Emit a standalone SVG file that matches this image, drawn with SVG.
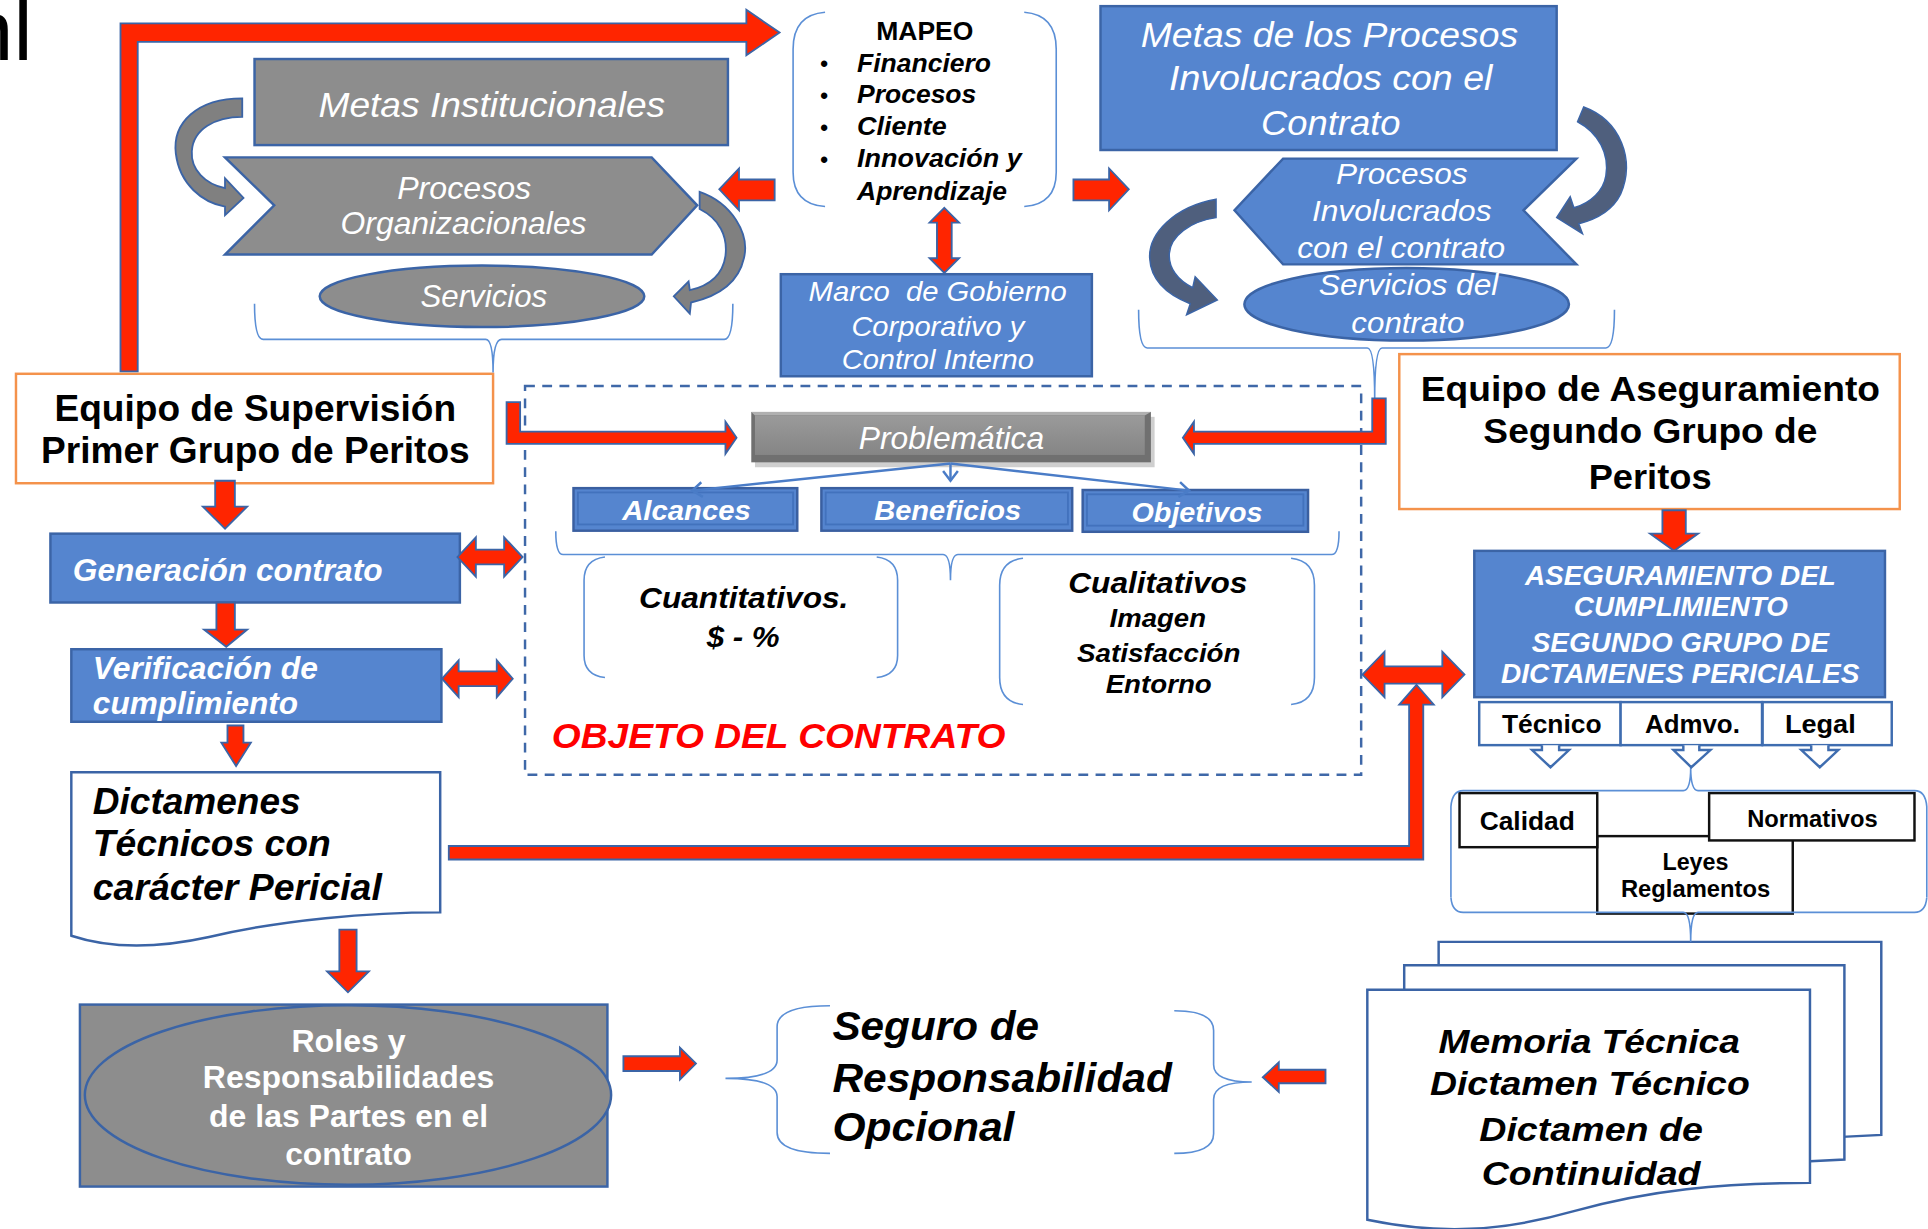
<svg xmlns="http://www.w3.org/2000/svg" width="1928" height="1229" viewBox="0 0 1928 1229">
<style>
text{font-family:"Liberation Sans",Arial,sans-serif}
.wi{fill:#fff;font-style:italic}
.wbi{fill:#fff;font-style:italic;font-weight:bold}
.wb{fill:#fff;font-weight:bold}
.bk{fill:#000;font-weight:bold}
.bki{fill:#000;font-weight:bold;font-style:italic}
.blue{fill:#5585cf;stroke:#3b64a6;stroke-width:2}
.gray{fill:#8d8d8d;stroke:#3b64a6;stroke-width:2}
.org{fill:#fff;stroke:#f4924b;stroke-width:2}
.red{fill:#ff2500;stroke:#3b64a6;stroke-width:1.5;stroke-linejoin:miter}
.brace{fill:none;stroke:#5b8fd6;stroke-width:1.3}
.doc{fill:#fff;stroke:#3b64a6;stroke-width:2}
.wbox{fill:#fff;stroke:#111;stroke-width:2}
.obox{fill:#fff;stroke:#3f6db0;stroke-width:2}
.slate{fill:#4f5f7d;stroke:#3b64a6;stroke-width:1.2}
.gcurve{fill:#808080;stroke:#3b64a6;stroke-width:1.5}
.bev{fill:#5585cf;stroke:#3a5fa0;stroke-width:2}
.bevi{fill:none;stroke:#4272bd;stroke-width:1.5}
.pl{fill:none;stroke:#4a7cc7;stroke-width:2}
</style>
<defs>
<marker id="oa" markerWidth="14" markerHeight="14" refX="10" refY="7" orient="auto" markerUnits="userSpaceOnUse"><path d="M2,1 L10,7 L2,13" fill="none" stroke="#4a7cc7" stroke-width="2"/></marker>
<linearGradient id="pg" x1="0" y1="0" x2="0" y2="1"><stop offset="0" stop-color="#9a9a9a"/><stop offset="1" stop-color="#858585"/></linearGradient>
</defs>
<rect width="1928" height="1229" fill="#fff"/>
<g transform="scale(1.2296)">
<text x="-28" y="49" font-size="70" fill="#000">nl</text>

<g id="metas-institucionales"><rect class="gray" x="207" y="48" width="385" height="70"/><text class="wi" x="259" y="95" font-size="28" textLength="282" lengthAdjust="spacingAndGlyphs">Metas Institucionales</text></g>
<g id="procesos-organizacionales"><polygon class="gray" points="183,128 530,128 567,167 530,207 183,207 223,167"/><text class="wi" x="323" y="162" font-size="26" textLength="109" lengthAdjust="spacingAndGlyphs">Procesos</text><text class="wi" x="277" y="190" font-size="26" textLength="200" lengthAdjust="spacingAndGlyphs">Organizacionales</text></g>
<g id="servicios"><ellipse class="gray" cx="392" cy="241" rx="132" ry="25"/><text class="wi" x="342" y="250" font-size="26" textLength="103" lengthAdjust="spacingAndGlyphs">Servicios</text></g>

<g id="mapeo">
<path class="brace" d="M671,10 Q645,12 645,40 L645,140 Q645,166 671,168"/>
<path class="brace" d="M833,10 Q859,12 859,40 L859,140 Q859,166 833,168"/>
<text class="bk" x="712.6" y="32.6" font-size="21" textLength="79" lengthAdjust="spacingAndGlyphs">MAPEO</text>
<g class="bk" font-size="18"><text x="667" y="58">•</text><text x="667" y="84">•</text><text x="667" y="110">•</text><text x="667" y="136">•</text></g>
<text class="bki" x="697" y="58.4" font-size="21" textLength="109" lengthAdjust="spacingAndGlyphs">Financiero</text>
<text class="bki" x="697" y="84" font-size="21" textLength="97" lengthAdjust="spacingAndGlyphs">Procesos</text>
<text class="bki" x="697" y="110" font-size="21" textLength="73" lengthAdjust="spacingAndGlyphs">Cliente</text>
<text class="bki" x="697" y="136" font-size="21" textLength="134" lengthAdjust="spacingAndGlyphs">Innovación y</text>
<text class="bki" x="697" y="162.5" font-size="21" textLength="122" lengthAdjust="spacingAndGlyphs">Aprendizaje</text>
</g>

<g id="marco-gobierno"><rect class="blue" x="635" y="223" width="253" height="83"/>
<text class="wi" x="657.6" y="244.5" font-size="22" textLength="210" lengthAdjust="spacingAndGlyphs" xml:space="preserve">Marco  de Gobierno</text>
<text class="wi" x="692.4" y="273.3" font-size="22" textLength="140.6" lengthAdjust="spacingAndGlyphs">Corporativo y</text>
<text class="wi" x="684.5" y="300.4" font-size="22" textLength="156.4" lengthAdjust="spacingAndGlyphs">Control Interno</text></g>

<g id="metas-procesos"><rect class="blue" x="895" y="5" width="371" height="117"/>
<text class="wi" x="927.7" y="38" font-size="29" textLength="307" lengthAdjust="spacingAndGlyphs">Metas de los Procesos</text>
<text class="wi" x="950.7" y="73.5" font-size="29" textLength="263" lengthAdjust="spacingAndGlyphs">Involucrados con el</text>
<text class="wi" x="1025.5" y="110" font-size="29" textLength="113.5" lengthAdjust="spacingAndGlyphs">Contrato</text></g>
<g id="procesos-involucrados"><polygon class="blue" points="1043.5,129 1282,129 1239,171 1282,215 1043.5,215 1004,171"/>
<text class="wi" x="1086.6" y="150" font-size="24" textLength="107" lengthAdjust="spacingAndGlyphs">Procesos</text>
<text class="wi" x="1067" y="180" font-size="24" textLength="146" lengthAdjust="spacingAndGlyphs">Involucrados</text>
<text class="wi" x="1055" y="210" font-size="24" textLength="169" lengthAdjust="spacingAndGlyphs">con el contrato</text></g>
<g id="servicios-contrato"><ellipse class="blue" cx="1144" cy="247.5" rx="132" ry="29.5"/>
<text class="wi" x="1072.6" y="240" font-size="24" textLength="146" lengthAdjust="spacingAndGlyphs">Servicios del</text>
<text class="wi" x="1099" y="271" font-size="24" textLength="92" lengthAdjust="spacingAndGlyphs">contrato</text></g>

<g id="equipo-supervision"><rect class="org" x="13" y="304" width="388" height="89"/>
<text class="bk" x="44.3" y="342.6" font-size="30" textLength="326.6" lengthAdjust="spacingAndGlyphs">Equipo de Supervisión</text>
<text class="bk" x="33.4" y="376.8" font-size="30" textLength="348.6" lengthAdjust="spacingAndGlyphs">Primer Grupo de Peritos</text></g>
<g id="generacion-contrato"><rect class="blue" x="41" y="434" width="333" height="56"/>
<text class="wbi" x="59.2" y="472.7" font-size="26" textLength="252" lengthAdjust="spacingAndGlyphs">Generación contrato</text></g>
<g id="verificacion"><rect class="blue" x="58" y="528" width="301" height="59"/>
<text class="wbi" x="75.5" y="552" font-size="26" textLength="183" lengthAdjust="spacingAndGlyphs">Verificación de</text>
<text class="wbi" x="75.5" y="580.7" font-size="26" textLength="167" lengthAdjust="spacingAndGlyphs">cumplimiento</text></g>
<g id="dictamenes-tecnicos"><path class="doc" d="M58,628 L358,628 L358,742 C300,742 230,748 170,762 C120,773 85,770 58,761 Z"/>
<text class="bki" x="75.5" y="661.6" font-size="30" textLength="169" lengthAdjust="spacingAndGlyphs">Dictamenes</text>
<text class="bki" x="75.5" y="695.8" font-size="30" textLength="193.5" lengthAdjust="spacingAndGlyphs">Técnicos con</text>
<text class="bki" x="75.5" y="732.3" font-size="30" textLength="235" lengthAdjust="spacingAndGlyphs">carácter Pericial</text></g>
<g id="roles"><rect class="gray" x="65" y="817" width="429" height="148" stroke-width="2.5"/><ellipse class="gray" cx="283" cy="890.5" rx="214" ry="73"/>
<text class="wb" x="237" y="855.3" font-size="26" textLength="93" lengthAdjust="spacingAndGlyphs">Roles y</text>
<text class="wb" x="165" y="885" font-size="26" textLength="237" lengthAdjust="spacingAndGlyphs">Responsabilidades</text>
<text class="wb" x="170" y="916.3" font-size="26" textLength="227" lengthAdjust="spacingAndGlyphs">de las Partes en el</text>
<text class="wb" x="232" y="947.5" font-size="26" textLength="103" lengthAdjust="spacingAndGlyphs">contrato</text></g>

<g id="objeto-contrato"><rect x="427" y="314" width="680" height="316" fill="none" stroke="#3f68a8" stroke-width="2" stroke-dasharray="8,6"/>
<text x="448.7" y="608.6" font-size="28" font-weight="bold" font-style="italic" fill="#ff0000" textLength="369" lengthAdjust="spacingAndGlyphs">OBJETO DEL CONTRATO</text></g>
<g id="problematica"><rect x="614" y="339" width="325" height="41" fill="#cfcfcf"/><rect x="611" y="335" width="325" height="41" fill="#707070"/><polygon points="611,335 936,335 931,338 614,338" fill="#b0b0b0"/><rect x="614" y="338" width="317" height="32" fill="url(#pg)"/>
<text class="wi" x="698.4" y="365.4" font-size="26" textLength="150.8" lengthAdjust="spacingAndGlyphs">Problemática</text></g>
<g id="alcances"><rect class="bev" x="466.4" y="397" width="182" height="34.6"/><rect class="bevi" x="470" y="400.5" width="175" height="26"/><text class="wbi" x="506" y="423" font-size="23" textLength="104.7" lengthAdjust="spacingAndGlyphs">Alcances</text></g>
<g id="beneficios"><rect class="bev" x="668" y="397" width="204" height="34.6"/><rect class="bevi" x="671.5" y="400.5" width="197" height="26"/><text class="wbi" x="711" y="423" font-size="23" textLength="119.5" lengthAdjust="spacingAndGlyphs">Beneficios</text></g>
<g id="objetivos"><rect class="bev" x="880.5" y="398.5" width="183.3" height="34"/><rect class="bevi" x="884" y="402" width="176" height="25.5"/><text class="wbi" x="920.2" y="424.5" font-size="23" textLength="106.5" lengthAdjust="spacingAndGlyphs">Objetivos</text></g>
<g id="cuantitativos"><path class="brace" d="M492,453 Q475,455 475,472 L475,533 Q475,549 492,551"/><path class="brace" d="M713,453 Q730,455 730,472 L730,533 Q730,549 713,551"/>
<text class="bki" x="519.7" y="494.7" font-size="24" textLength="170.3" lengthAdjust="spacingAndGlyphs">Cuantitativos.</text>
<text class="bki" x="574.7" y="526" font-size="24" textLength="59.4" lengthAdjust="spacingAndGlyphs">$ - %</text></g>
<g id="cualitativos"><path class="brace" d="M832,454 Q813,456 813,476 L813,551 Q813,571 832,573"/><path class="brace" d="M1050,454 Q1069,456 1069,476 L1069,551 Q1069,571 1050,573"/>
<text class="bki" x="868.8" y="482.6" font-size="24" textLength="145.7" lengthAdjust="spacingAndGlyphs">Cualitativos</text>
<text class="bki" x="902.4" y="509.7" font-size="21" textLength="78.4" lengthAdjust="spacingAndGlyphs">Imagen</text>
<text class="bki" x="875.9" y="538.1" font-size="21" textLength="133" lengthAdjust="spacingAndGlyphs">Satisfacción</text>
<text class="bki" x="899.2" y="563.9" font-size="21" textLength="86.3" lengthAdjust="spacingAndGlyphs">Entorno</text></g>

<g id="equipo-aseguramiento"><rect class="org" x="1138" y="288" width="407" height="126"/>
<text class="bk" x="1155.5" y="326.4" font-size="29" textLength="373.5" lengthAdjust="spacingAndGlyphs">Equipo de Aseguramiento</text>
<text class="bk" x="1206.4" y="360.6" font-size="29" textLength="271.6" lengthAdjust="spacingAndGlyphs">Segundo Grupo de</text>
<text class="bk" x="1292" y="397.7" font-size="29" textLength="100" lengthAdjust="spacingAndGlyphs">Peritos</text></g>
<g id="aseguramiento"><rect class="blue" x="1199" y="448" width="334" height="119"/>
<text class="wbi" x="1240.2" y="475.4" font-size="22" textLength="252.8" lengthAdjust="spacingAndGlyphs">ASEGURAMIENTO DEL</text>
<text class="wbi" x="1280" y="501.3" font-size="22" textLength="174" lengthAdjust="spacingAndGlyphs">CUMPLIMIENTO</text>
<text class="wbi" x="1245.7" y="529.9" font-size="22" textLength="241.8" lengthAdjust="spacingAndGlyphs">SEGUNDO GRUPO DE</text>
<text class="wbi" x="1220.7" y="555.8" font-size="22" textLength="291.5" lengthAdjust="spacingAndGlyphs">DICTAMENES PERICIALES</text></g>
<g id="tecnico"><rect class="obox" x="1203" y="571" width="115" height="35"/><text class="bk" x="1221.5" y="596" font-size="21" textLength="81" lengthAdjust="spacingAndGlyphs">Técnico</text></g>
<g id="admvo"><rect class="obox" x="1318" y="571" width="115" height="35"/><text class="bk" x="1337.8" y="596" font-size="21" textLength="77.2" lengthAdjust="spacingAndGlyphs">Admvo.</text></g>
<g id="legal"><rect class="obox" x="1433.5" y="571" width="105" height="35"/><text class="bk" x="1451.7" y="596" font-size="21" textLength="57.5" lengthAdjust="spacingAndGlyphs">Legal</text></g>
<g id="leyes"><rect class="wbox" x="1299" y="680" width="159" height="63"/><text class="bk" x="1352" y="707.6" font-size="19" textLength="53.7" lengthAdjust="spacingAndGlyphs">Leyes</text><text class="bk" x="1318.3" y="729.1" font-size="19" textLength="121.3" lengthAdjust="spacingAndGlyphs">Reglamentos</text></g>
<g id="calidad"><rect class="wbox" x="1187" y="645" width="112" height="44"/><text class="bk" x="1203.4" y="675" font-size="21" textLength="77.4" lengthAdjust="spacingAndGlyphs">Calidad</text></g>
<g id="normativos"><rect class="wbox" x="1390" y="645" width="167" height="38.5"/><text class="bk" x="1421" y="672.6" font-size="19" textLength="106" lengthAdjust="spacingAndGlyphs">Normativos</text></g>

<g id="memoria">
<path class="doc" d="M1170,766 L1530,766 L1530,923 L1490,925 L1170,940 Z"/>
<path class="doc" d="M1142,785 L1500,785 L1500,943 L1460,945 L1142,960 Z"/>
<path class="doc" d="M1112,805 L1472,805 L1472,962 C1400,962 1340,968 1280,985 C1220,1002 1170,1004 1112,992 Z"/>
<text class="bki" x="1170" y="856.6" font-size="27" textLength="245" lengthAdjust="spacingAndGlyphs">Memoria Técnica</text>
<text class="bki" x="1163" y="890.5" font-size="27" textLength="260" lengthAdjust="spacingAndGlyphs">Dictamen Técnico</text>
<text class="bki" x="1203" y="927.7" font-size="27" textLength="182" lengthAdjust="spacingAndGlyphs">Dictamen de</text>
<text class="bki" x="1205" y="963.7" font-size="27" textLength="178" lengthAdjust="spacingAndGlyphs">Continuidad</text></g>
<g id="seguro">
<path class="brace" d="M675,818 Q632,818 632,835 L632,862 Q632,877 590,877 Q632,877 632,892 L632,921 Q632,938 675,938"/>
<path class="brace" d="M955,822 Q987,822 987,838 L987,866 Q987,880 1018,880 Q987,880 987,894 L987,922 Q987,938 955,938"/>
<text class="bki" x="677" y="845.8" font-size="33" textLength="168" lengthAdjust="spacingAndGlyphs">Seguro de</text>
<text class="bki" x="677" y="887.8" font-size="33" textLength="276" lengthAdjust="spacingAndGlyphs">Responsabilidad</text>
<text class="bki" x="677" y="927.7" font-size="33" textLength="148" lengthAdjust="spacingAndGlyphs">Opcional</text></g>

<g id="connectors">
<path class="brace" d="M207,247 Q207,276 214,276 L395,276 Q401,276 401,303 Q401,276 408,276 L589,276 Q596,276 596,247"/>
<path class="brace" d="M926,252 Q926,283 933,283 L1112,283 Q1118,283 1118,325 Q1118,283 1124,283 L1306,283 Q1313,283 1313,252"/>
<path class="brace" d="M452,432 Q452,451 458,451 L767,451 Q773,451 773,472 Q773,451 779,451 L1083,451 Q1089,451 1089,432"/>
<path class="brace" d="M1180,730 L1180,656 Q1181,643 1190,643 L1369,643 Q1375,643 1375,624 Q1375,643 1381,643 L1557,643 Q1566,643 1567,656 L1567,730"/>
<path class="brace" d="M1180,730 Q1181,742 1190,742 L1369,742 Q1375,742 1375,766 Q1375,742 1381,742 L1557,742 Q1566,742 1567,730"/>
<path class="pl" d="M773,377 L563,399" marker-end="url(#oa)"/>
<path class="pl" d="M773,377 L773,391" marker-end="url(#oa)"/>
<path class="pl" d="M773,377 L967,399" marker-end="url(#oa)"/>
<path class="gcurve" d="M197,80 C160,80 140,100 143,125 C146,150 165,165 183,168 L183,175 L198,161 L183,145 L183,153 C167,150 155,138 156,123 C157,105 175,95 197,95 Z"/>
<path class="gcurve" d="M569,156 C595,165 610,190 605,210 C601,228 588,240 562,246 L561,255 L548,241 L560,229 L561,236 C578,232 588,222 590,208 C592,192 585,178 569,170 Z"/>
<path class="slate" d="M1288,87 C1318,98 1330,130 1318,158 C1312,170 1300,178 1284,182 L1287,190 L1266,177 L1277,160 L1280,169 C1294,165 1304,155 1306,143 C1309,125 1300,108 1283,99 Z"/>
<path class="slate" d="M989,162 C955,168 934,190 935,210 C936,228 950,240 968,247 L965,256 L990,244 L972,225 L970,234 C958,228 950,218 951,206 C952,192 968,180 989,177 Z"/>
<path class="red" d="M98,302 L98,19 L607,19 L607,8 L634,26.5 L607,45 L607,34 L112,34 L112,302 Z"/>
<path class="red" d="M630,146 L601,146 L601,137 L585,154 L601,171 L601,163 L630,163 Z"/>
<path class="red" d="M873,146 L902,146 L902,137 L918,154 L902,171 L902,163 L873,163 Z"/>
<path class="red" d="M768,169 L780,181 L774,181 L774,210 L780,210 L768,222 L756,210 L762,210 L762,181 L756,181 Z"/>
<path class="red" d="M175,391 L191,391 L191,412 L201,412 L183,430 L165,412 L175,412 Z"/>
<path class="red" d="M176,490 L191,490 L191,512 L201,512 L184,526 L166,512 L176,512 Z"/>
<path class="red" d="M185,590 L198,590 L198,604 L204,604 L192,623 L180,604 L185,604 Z"/>
<path class="red" d="M276,756 L290,756 L290,790 L300,790 L283,807 L266,790 L276,790 Z"/>
<path class="red" d="M372,453 L387,437 L387,447 L410,447 L410,437 L425,453 L410,469 L410,459 L387,459 L387,469 Z"/>
<path class="red" d="M359.5,552 L373,537 L373,546 L404,546 L404,537 L417,552 L404,567 L404,558 L373,558 L373,567 Z"/>
<path class="red" d="M412,327 L423,327 L423,351 L590,351 L590,343 L599,356 L590,369 L590,361 L412,361 Z"/>
<path class="red" d="M1116,324 L1127,324 L1127,361 L971,361 L971,369 L962,356 L971,343 L971,351 L1116,351 Z"/>
<path class="red" d="M1352,415 L1371,415 L1371,434 L1381,434 L1361.5,448 L1342,434 L1352,434 Z"/>
<path class="red" d="M1108,548.6 L1126,530 L1126,542 L1173,542 L1173,530 L1191,548.6 L1173,567 L1173,556 L1126,556 L1126,567 Z"/>
<path class="red" d="M365,688 L1146,688 L1146,573 L1138,573 L1152,557 L1166,573 L1157.5,573 L1157.5,699 L365,699 Z"/>
<path class="red" d="M507,859 L553,859 L553,852 L566,865 L553,878 L553,871 L507,871 Z"/>
<path class="red" d="M1078,870 L1040,870 L1040,864 L1027,876 L1040,888 L1040,881 L1078,881 Z"/>
<path class="obox" d="M1254,606 L1254,610 L1246,610 L1261,624 L1276,610 L1268,610 L1268,606"/>
<path class="obox" d="M1369,606 L1369,610 L1361,610 L1375.5,624 L1391,610 L1382,610 L1382,606"/>
<path class="obox" d="M1473,606 L1473,610 L1465,610 L1480,624 L1495,610 L1487,610 L1487,606"/>
</g>
</g>
</svg>
